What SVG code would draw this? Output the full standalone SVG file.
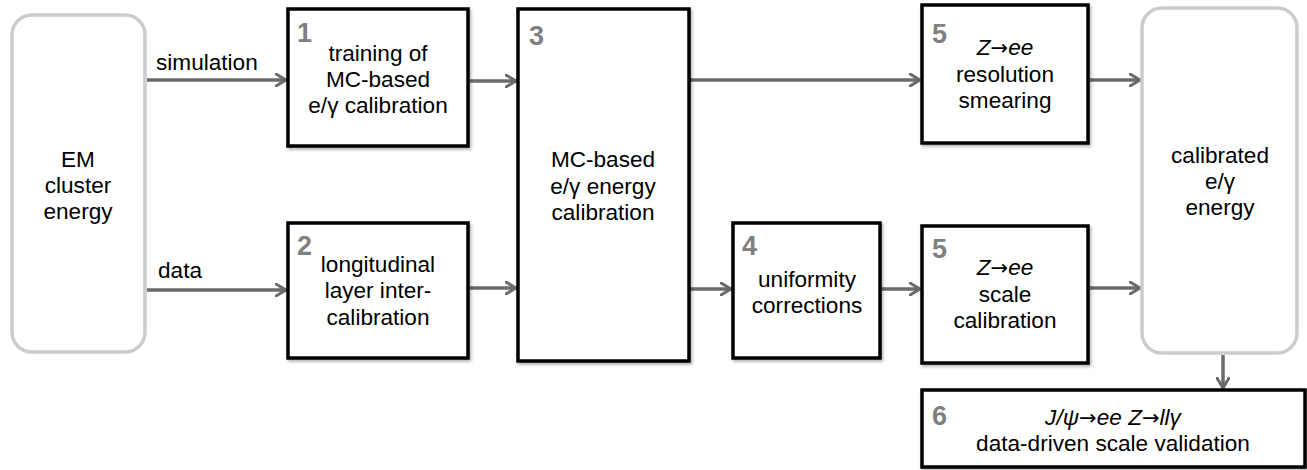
<svg xmlns="http://www.w3.org/2000/svg" width="1307" height="470" viewBox="0 0 1307 470">
<defs>
<filter id="sh" x="-10%" y="-10%" width="125%" height="125%">
<feDropShadow dx="1.5" dy="2" stdDeviation="1.5" flood-color="#000" flood-opacity="0.3"/>
</filter>
<marker id="ah" viewBox="0 0 12 14" refX="11" refY="7" markerWidth="12" markerHeight="14" markerUnits="userSpaceOnUse" orient="auto">
<path d="M1,1 L11,7 L1,13" fill="none" stroke="#6b6b6b" stroke-width="3" stroke-linecap="round" stroke-linejoin="round"/>
</marker>
</defs>
<style>
text{font-family:"Liberation Sans",Arial,sans-serif;font-size:22.6px;fill:#000;text-anchor:middle}
.num{font-weight:bold;font-size:27px;fill:#808080;text-anchor:start}
.box{fill:#fff;stroke:#000;stroke-width:3.5;filter:url(#sh)}
.rbox{fill:#fff;stroke:#cccccc;stroke-width:3.5}
.lbl{text-anchor:start}
.it{font-style:italic}
.ar{font-family:"DejaVu Sans",sans-serif;font-size:21px}
.conn{stroke:#6b6b6b;stroke-width:3.5;fill:none;marker-end:url(#ah)}
</style>
<rect width="1307" height="470" fill="#fff"/>
<g id="connectors">
<line class="conn" x1="147" y1="80" x2="286" y2="80"/>
<line class="conn" x1="147" y1="290" x2="286" y2="290"/>
<line class="conn" x1="470" y1="81" x2="516" y2="81"/>
<line class="conn" x1="470" y1="288" x2="516" y2="288"/>
<line class="conn" x1="690" y1="80" x2="920" y2="80"/>
<line class="conn" x1="690" y1="289" x2="731" y2="289"/>
<line class="conn" x1="882" y1="289" x2="920" y2="289"/>
<line class="conn" x1="1090" y1="80" x2="1140" y2="80"/>
<line class="conn" x1="1090" y1="288" x2="1140" y2="288"/>
<line class="conn" x1="1223" y1="355" x2="1223" y2="388"/>
<text class="lbl" x="156" y="70">simulation</text>
<text class="lbl" x="158" y="278">data</text>
</g>
<g id="em">
<rect class="rbox" x="12" y="15" width="133" height="337" rx="20"/>
<text x="78" y="167">EM</text>
<text x="78" y="193">cluster</text>
<text x="78" y="219">energy</text>
</g>
<g id="n1">
<rect class="box" x="288" y="9" width="180" height="137"/>
<text class="num" x="297" y="42">1</text>
<text x="378" y="61">training of</text>
<text x="378" y="87">MC-based</text>
<text x="378" y="113">e/γ calibration</text>
</g>
<g id="n2">
<rect class="box" x="288" y="223" width="180" height="135"/>
<text class="num" x="297" y="255">2</text>
<text x="378" y="272">longitudinal</text>
<text x="378" y="298">layer inter-</text>
<text x="378" y="325">calibration</text>
</g>
<g id="n3">
<rect class="box" x="518" y="9" width="171" height="352"/>
<text class="num" x="529" y="45">3</text>
<text x="603" y="167">MC-based</text>
<text x="603" y="194">e/γ energy</text>
<text x="603" y="220">calibration</text>
</g>
<g id="n4">
<rect class="box" x="733" y="223" width="147" height="135"/>
<text class="num" x="742" y="255">4</text>
<text x="807" y="287">uniformity</text>
<text x="807" y="313">corrections</text>
</g>
<g id="n5a">
<rect class="box" x="922" y="5" width="166" height="138"/>
<text class="num" x="932" y="43">5</text>
<text x="1005" y="55"><tspan class="it">Z</tspan><tspan class="ar">→</tspan><tspan class="it">ee</tspan></text>
<text x="1005" y="82">resolution</text>
<text x="1005" y="108">smearing</text>
</g>
<g id="n5b">
<rect class="box" x="922" y="226" width="166" height="137"/>
<text class="num" x="932" y="258">5</text>
<text x="1005" y="275"><tspan class="it">Z</tspan><tspan class="ar">→</tspan><tspan class="it">ee</tspan></text>
<text x="1005" y="302">scale</text>
<text x="1005" y="328">calibration</text>
</g>
<g id="cal">
<rect class="rbox" x="1142" y="8" width="155" height="345" rx="20"/>
<text x="1220" y="163">calibrated</text>
<text x="1220" y="189">e/γ</text>
<text x="1220" y="215">energy</text>
</g>
<g id="n6">
<rect class="box" x="922" y="390" width="383" height="77"/>
<text class="num" x="932" y="425">6</text>
<text x="1113" y="425"><tspan class="it">J/ψ</tspan><tspan class="ar">→</tspan><tspan class="it">ee Z</tspan><tspan class="ar">→</tspan><tspan class="it">llγ</tspan></text>
<text x="1113" y="451">data-driven scale validation</text>
</g>
</svg>
